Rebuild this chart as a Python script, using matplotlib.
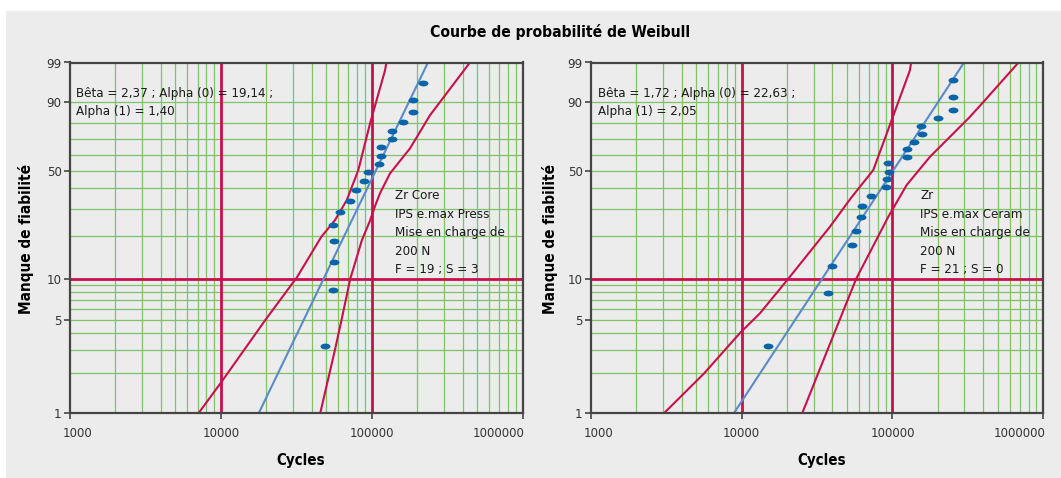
import numpy as np
import matplotlib
matplotlib.use('Agg')
import matplotlib.pyplot as plt
from matplotlib import font_manager
from matplotlib.markers import MarkerStyle
from matplotlib.transforms import Affine2D, ScaledTranslation
from matplotlib.patches import Rectangle
from matplotlib.ticker import NullLocator

# ---- data (cycles, % failure) ----
title = 'Courbe de probabilité de Weibull'

# left panel : Zr Core / IPS e.max Press
left_pts_cycles = [217500, 186600, 187500, 160300, 136700, 136700, 115000, 115000,
                   111100, 94400, 89200, 78600, 71400, 61500, 55600, 56400,
                   55900, 55600, 48900]
left_pts_prob = [95.9, 90.8, 85.4, 80.3, 75.0, 69.9, 64.8, 59.4,
                 54.3, 49.1, 43.8, 39.1, 33.7, 28.9, 23.6, 18.3,
                 13.2, 8.3, 3.2]
left_fit_cycles = [17800, 235600]
left_fit_prob = [1, 99]
left_low_cycles = [7100, 10000, 19700, 32000, 46300, 57000, 68200, 81400, 97300, 122400, 125000]
left_low_prob = [1, 1.7, 5, 10.3, 19.7, 25.4, 34, 50.5, 79.5, 98.2, 99]
left_up_cycles = [45500, 57000, 63000, 72000, 86000, 97000, 106000, 113300, 132000,
                  179100, 243000, 447000]
left_up_prob = [1, 3, 5, 10, 18.7, 25, 32, 37.4, 48.5, 64.2, 84, 99]
left_params = 'Bêta = 2,37 ; Alpha (0) = 19,14 ;\nAlpha (1) = 1,40'
left_label = 'Zr Core\nIPS e.max Press\nMise en charge de\n200 N\nF = 19 ; S = 3'

# right panel : Zr / IPS e.max Ceram
right_pts_cycles = [250700, 250700, 250700, 199500, 154500, 157600, 138900, 124800,
                    124800, 92900, 94300, 91500, 90500, 71700, 63050, 61800,
                    57300, 53900, 39900, 37500, 14940]
right_pts_prob = [96.7, 91.9, 86.8, 82.6, 78.0, 73.2, 68.2, 63.9,
                  58.8, 55.0, 49.1, 45.0, 40.5, 35.9, 31.1, 26.7,
                  21.4, 17.2, 12.3, 7.9, 3.2]
right_fit_cycles = [8870, 298500]
right_fit_prob = [1, 99]
right_low_cycles = [3050, 5640, 8360, 9740, 13220, 20370, 38500, 53000, 74600,
                    98800, 130600, 133000]
right_low_prob = [1, 2, 3.3, 4, 5.6, 10, 23, 35, 50.5, 81.4, 98.2, 99]
right_up_cycles = [25200, 34800, 57500, 93800, 124200, 177300, 325000, 400000, 686000]
right_up_prob = [1, 2.5, 10, 26.7, 41.8, 58.8, 83, 90, 99]
right_params = 'Bêta = 1,72 ; Alpha (0) = 22,63 ;\nAlpha (1) = 2,05'
right_label = 'Zr\nIPS e.max Ceram\nMise en charge de\n200 N\nF = 21 ; S = 0'

y_ticks = [1, 5, 10, 50, 90, 99]
x_ticks = [1000, 10000, 100000, 1000000]
x_tick_labels = ['1000', '10000', '100000', '1000000']
grid_p = [2, 3, 4, 5, 6, 7, 8, 9, 20, 30, 40, 50, 60, 70, 80, 90]
grid_x = [m * 10 ** e for e in (3, 4, 5) for m in range(2, 10)]
ref_x = [10000, 100000]
ref_p = [10]

BG = '#ebeceb'
RED = '#c8104e'
BLUE = '#5a8ac8'
DOT = '#0a64aa'
GREEN = '#82c266'
SPINE = '#454545'

# pick a narrow face if one is installed (the original uses a condensed sans)
names = {f.name for f in font_manager.fontManager.ttflist}
condensed = {f.name for f in font_manager.fontManager.ttflist if f.stretch in ('condensed', 'semi-condensed')}
STRETCH = 'normal'
if 'Liberation Sans Narrow' in names:
    FAMILY = 'Liberation Sans Narrow'
    SCALE = 1.0
elif 'DejaVu Sans' in condensed:
    FAMILY = 'DejaVu Sans'
    STRETCH = 'condensed'
    SCALE = 0.9
else:
    FAMILY = 'Liberation Sans'
    SCALE = 0.87
plt.rcParams['font.family'] = [FAMILY, 'DejaVu Sans']
plt.rcParams['font.stretch'] = STRETCH


def weib(p):
    p = np.clip(np.asarray(p, dtype=float), 1e-6, 100 - 1e-6)
    return np.log(-np.log(1 - p / 100.0))


def weib_inv(w):
    w = np.asarray(w, dtype=float)
    return 100.0 * (1 - np.exp(-np.exp(w)))


ellipse = MarkerStyle('o', transform=Affine2D().scale(1.7, 1.0))


def draw_panel(fig, ax, pts_c, pts_p, fit_c, fit_p, low_c, low_p, up_c, up_p,
               params, label, params_x, label_x):
    ax.set_facecolor(BG)
    ax.set_xscale('log')
    ax.set_yscale('function', functions=(weib, weib_inv))
    ax.set_xlim(1000, 1000000)
    ax.set_ylim(1, 99)

    for gx in grid_x:
        ax.axvline(gx, color=GREEN, lw=0.9, zorder=1)
    for gp in grid_p:
        ax.axhline(gp, color=GREEN, lw=0.9, zorder=1)
    for rx in ref_x:
        ax.axvline(rx, color=RED, lw=2.0, zorder=2)
    for rp in ref_p:
        ax.axhline(rp, color=RED, lw=2.0, zorder=2)

    ax.plot(low_c, low_p, color=RED, lw=1.5, zorder=3, solid_capstyle='butt')
    ax.plot(up_c, up_p, color=RED, lw=1.5, zorder=3, solid_capstyle='butt')
    ax.plot(fit_c, fit_p, color=BLUE, lw=1.5, zorder=3, solid_capstyle='butt')
    ax.plot(pts_c, pts_p, ls='none', marker=ellipse, ms=4.2, color=DOT,
            markeredgewidth=0, zorder=4)

    ax.set_xticks(x_ticks)
    ax.set_xticklabels(x_tick_labels)
    ax.xaxis.set_minor_locator(NullLocator())
    ax.set_yticks(y_ticks)
    ax.set_yticklabels([str(v) for v in y_ticks])
    ax.yaxis.set_minor_locator(NullLocator())
    ax.tick_params(axis='both', length=4, width=1.2, color=SPINE, labelcolor='#333333',
                   labelsize=10.5 * SCALE, pad=2)
    ax.tick_params(axis='x', pad=6)
    # end labels are pulled inward, as in the original
    xl = ax.get_xticklabels()
    xl[0].set_horizontalalignment('left')
    xl[0].set_transform(xl[0].get_transform() + ScaledTranslation(-7.5 / 100, 0, fig.dpi_scale_trans))
    xl[-1].set_horizontalalignment('right')
    xl[-1].set_transform(xl[-1].get_transform() + ScaledTranslation(2 / 100, 0, fig.dpi_scale_trans))
    for s in ax.spines.values():
        s.set_color(SPINE)
        s.set_linewidth(1.6)
        s.set_zorder(5)

    ax.text(params_x, 0.931, params, transform=ax.transAxes, ha='left', va='top',
            fontsize=10.6 * SCALE, color='#1a1a1a', linespacing=1.55, zorder=6)
    ax.text(label_x, 0.639, label, transform=ax.transAxes, ha='left', va='top',
            fontsize=10.6 * SCALE, color='#1a1a1a', linespacing=1.55, zorder=6)


W, H = 1061, 478
fig = plt.figure(figsize=(W / 100, H / 100), dpi=100)
fig.patch.set_facecolor('white')
fig.patches.append(Rectangle((6 / W, 0), 1 - 6 / W, 1 - 11 / H, transform=fig.transFigure,
                             facecolor=BG, edgecolor='none', zorder=-10))

ax1 = fig.add_axes([70 / W, 1 - 413.3 / H, 452.7 / W, 350.8 / H])
ax2 = fig.add_axes([590.9 / W, 1 - 413.3 / H, 452.3 / W, 350.8 / H])

draw_panel(fig, ax1, left_pts_cycles, left_pts_prob, left_fit_cycles, left_fit_prob,
           left_low_cycles, left_low_prob, left_up_cycles, left_up_prob,
           left_params, left_label, 0.0135, 0.719)
draw_panel(fig, ax2, right_pts_cycles, right_pts_prob, right_fit_cycles, right_fit_prob,
           right_low_cycles, right_low_prob, right_up_cycles, right_up_prob,
           right_params, right_label, 0.0148, 0.7287)

fig.text(560.5 / W, 1 - 32 / H, title, ha='center', va='center', fontsize=12.5 * SCALE,
         fontweight='bold')
for xc in (26, 549.5):
    fig.text(xc / W, 1 - 239.5 / H, 'Manque de fiabilité', rotation=90, ha='center',
             va='center', fontsize=12.2 * SCALE, fontweight='bold')
for xc in (301, 821.5):
    fig.text(xc / W, 1 - 461 / H, 'Cycles', ha='center', va='center', fontsize=12 * SCALE,
             fontweight='bold')

fig.savefig('out.png', dpi=100, facecolor=fig.get_facecolor())
